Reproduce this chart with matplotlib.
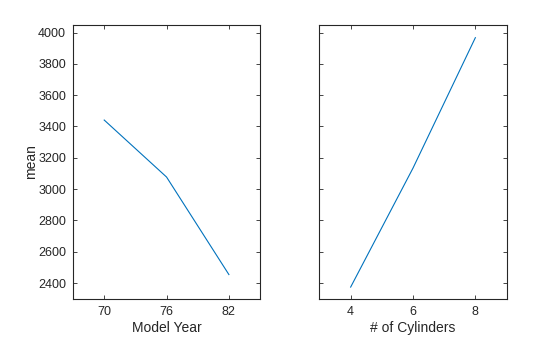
import matplotlib
matplotlib.use("Agg")
import matplotlib.pyplot as plt

years = [70, 76, 82]
mean_by_year = [3441, 3077, 2454]
cylinders = [4, 6, 8]
mean_by_cyl = [2374, 3134, 3967]
yticks = [2400, 2600, 2800, 3000, 3200, 3400, 3600, 3800, 4000]

plt.rcParams['font.family'] = ['Liberation Sans', 'DejaVu Sans']
fig = plt.figure(figsize=(5.6, 3.37), dpi=100)
ax1 = fig.add_axes([0.1304, 0.1128, 0.334, 0.813])
ax2 = fig.add_axes([0.5705, 0.1128, 0.334, 0.813], sharey=ax1)

col = '#0072BD'
txt = '#262626'
ax1.plot(years, mean_by_year, color=col, lw=0.8)
ax2.plot(cylinders, mean_by_cyl, color=col, lw=0.8)
ax1.set_xlim(67, 85)
ax2.set_xlim(3, 9)
ax1.set_ylim(2298, 4048)
ax1.set_xticks(years)
ax2.set_xticks(cylinders)
ax1.set_yticks(yticks)
for ax in (ax1, ax2):
    ax.tick_params(direction='in', top=True, right=True, length=3, width=0.6,
                   labelsize=9, colors=txt, labelcolor=txt, pad=5)
    for s in ax.spines.values():
        s.set_linewidth(0.8)
        s.set_color('#262626')
ax2.tick_params(labelleft=False)
ax1.set_xlabel('Model Year', fontsize=10, color=txt, labelpad=2)
ax2.set_xlabel('# of Cylinders', fontsize=10, color=txt, labelpad=2)
ax1.set_ylabel('mean', fontsize=10, color=txt, labelpad=0)
fig.savefig('out.png', dpi=100)
